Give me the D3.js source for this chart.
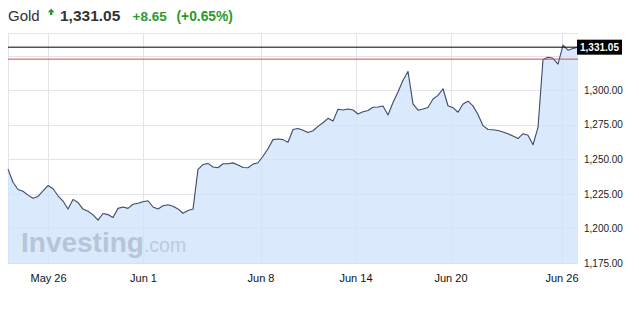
<!DOCTYPE html>
<html>
<head>
<meta charset="utf-8">
<script src="https://cdnjs.cloudflare.com/ajax/libs/d3/7.8.5/d3.min.js"></script>
<style>
body { margin: 0; background: #fff; }
svg text { font-family: Arial, "Liberation Sans", sans-serif; }
</style>
</head>
<body>
<div id="chart"></div>
<script>
// Gold price, one month, sampled at even steps
var prices = [
    1242.9, 1233.4, 1228.1, 1226.9, 1224.1, 1221.8, 1223.1, 1227.2, 1231.0, 1228.7,
    1223.6, 1219.8, 1214.0, 1221.0, 1218.7, 1214.0, 1212.4, 1209.8, 1206.0, 1210.8,
    1210.0, 1207.9, 1214.5, 1215.5, 1214.5, 1217.5, 1218.2, 1219.3, 1220.0, 1215.5,
    1214.0, 1216.4, 1217.1, 1216.0, 1214.1, 1211.0, 1212.9, 1214.0, 1242.7, 1246.2,
    1247.0, 1244.4, 1243.9, 1246.8, 1246.8, 1247.4, 1245.9, 1244.1, 1243.9, 1246.5,
    1247.5, 1252.2, 1257.6, 1264.2, 1264.7, 1264.2, 1262.3, 1271.5, 1272.2, 1271.0,
    1269.4, 1270.6, 1273.8, 1276.4, 1279.6, 1277.6, 1286.2, 1285.6, 1286.4, 1285.6,
    1282.7, 1284.3, 1285.3, 1287.6, 1287.8, 1288.5, 1282.0, 1291.0, 1298.6, 1307.2,
    1313.5, 1290.0, 1285.5, 1286.3, 1287.4, 1293.6, 1296.2, 1301.0, 1288.7, 1287.3,
    1284.0, 1290.0, 1292.0, 1288.6, 1282.3, 1274.3, 1271.5, 1271.3, 1270.8, 1269.7,
    1268.4, 1266.8, 1265.0, 1268.5, 1267.4, 1260.5, 1273.0, 1322.0, 1323.8, 1323.0,
    1318.8, 1332.5, 1328.9, 1330.1, 1331.05
];
var dateTicks = [8, 27, 50.5, 69.5, 88.5, 110.7];
var dateLabels = ["May 26", "Jun 1", "Jun 8", "Jun 14", "Jun 20", "Jun 26"];
var priceTicks = [1175, 1200, 1225, 1250, 1275, 1300];
var gridTicks = [1175, 1200, 1225, 1250, 1275, 1300, 1325];
var lastPrice = 1331.05, prevClose = 1322.40;
var change = "+8.65", changePct = "(+0.65%)";

function goldChart() {
    var width = 639, height = 316;
    var pl = 8, pr = 578, pt = 33, pb = 263;

    var svg = d3.select("#chart").append("svg")
	.attr("width", width)
	.attr("height", height);

    var x = d3.scaleLinear().domain([0, prices.length - 1]).range([pl, pr]);
    var y = d3.scaleLinear().domain([1175, 1341.3]).range([pb, pt]);

    function drawHeader() {
	var g = svg.append("g");
	g.append("text").attr("x", 8).attr("y", 21)
	    .attr("font-size", 15).attr("fill", "#333").text("Gold");
	// little up arrow
	g.append("path")
	    .attr("d", "M51.2,8.5 L54.6,12.3 L52.4,12.3 L52.4,15 L50,15 L50,12.3 L47.8,12.3 Z")
	    .attr("fill", "#2b9a2b");
	g.append("text").attr("x", 60).attr("y", 21)
	    .attr("font-size", 15.5).attr("font-weight", "bold").attr("fill", "#333")
	    .text(d3.format(",.2f")(lastPrice));
	g.append("text").attr("x", 132.5).attr("y", 21)
	    .attr("font-size", 13.5).attr("font-weight", "bold").attr("fill", "#2b9a2b")
	    .text(change);
	g.append("text").attr("x", 176.5).attr("y", 21)
	    .attr("font-size", 13.8).attr("font-weight", "bold").attr("fill", "#2b9a2b")
	    .text(changePct);
    }

    function drawGrid() {
	var g = svg.append("g").attr("class", "grid");
	g.selectAll("line.h").data(gridTicks).enter().append("line")
	    .attr("x1", pl).attr("x2", pr)
	    .attr("y1", function(d){return Math.round(y(d)) + 0.5})
	    .attr("y2", function(d){return Math.round(y(d)) + 0.5})
	    .attr("stroke", "#e3e4ea");
	g.selectAll("line.v").data(dateTicks).enter().append("line")
	    .attr("x1", function(d){return Math.round(x(d)) + 0.5})
	    .attr("x2", function(d){return Math.round(x(d)) + 0.5})
	    .attr("y1", pt).attr("y2", pb)
	    .attr("stroke", "#e3e4ea");
	g.append("line").attr("x1", pl).attr("x2", pr)
	    .attr("y1", pt + 0.5).attr("y2", pt + 0.5).attr("stroke", "#e3e4ea");
	g.append("line").attr("x1", pl + 0.5).attr("x2", pl + 0.5)
	    .attr("y1", pt).attr("y2", pb).attr("stroke", "#e3e4ea");
    }

    function drawSeries() {
	var area = d3.area()
	    .x(function(d, i){return x(i)})
	    .y0(pb)
	    .y1(function(d){return y(d)});
	var line = d3.line()
	    .x(function(d, i){return x(i)})
	    .y(function(d){return y(d)});

	svg.append("path").datum(prices)
	    .attr("d", area)
	    .attr("fill", "#cfe4fb")
	    .attr("fill-opacity", 0.78);

	// watermark
	var wm = svg.append("text").attr("x", 21).attr("y", 252);
	wm.append("tspan").attr("font-size", 28).attr("font-weight", "bold")
	    .attr("fill", "#b7c5d8").text("Investing");
	wm.append("tspan").attr("font-size", 19.5)
	    .attr("fill", "#bccbdd").text(".com");

	svg.append("line").attr("x1", pl).attr("x2", pr)
	    .attr("y1", pb + 0.5).attr("y2", pb + 0.5)
	    .attr("stroke", "#dde0e6");

	svg.append("path").datum(prices)
	    .attr("d", line)
	    .attr("fill", "none")
	    .attr("stroke", "#3d4a6c")
	    .attr("stroke-width", 1.1)
	    .attr("stroke-linejoin", "round");

	// previous close and last price
	svg.append("line").attr("x1", pl).attr("x2", pr)
	    .attr("y1", y(prevClose)).attr("y2", y(prevClose))
	    .attr("stroke", "#d0504a").attr("stroke-width", 1);
	svg.append("line").attr("x1", pl).attr("x2", pr)
	    .attr("y1", y(lastPrice)).attr("y2", y(lastPrice))
	    .attr("stroke", "#000").attr("stroke-width", 1);
    }

    function drawAxes() {
	var yAxis = d3.axisRight(y).tickValues(priceTicks).tickSize(0).tickPadding(0)
	    .tickFormat(d3.format(",.2f"));
	var ga = svg.append("g").attr("transform", "translate(584,0)").call(yAxis);
	ga.select(".domain").remove();
	ga.selectAll("text").attr("font-size", 10).attr("fill", "#222")
	    .attr("font-family", "Arial, 'Liberation Sans', sans-serif");

	var xAxis = d3.axisBottom(x).tickValues(dateTicks).tickSize(0).tickPadding(0)
	    .tickFormat(function(d, i){return dateLabels[i]});
	var gx = svg.append("g").attr("transform", "translate(0,274)").call(xAxis);
	gx.select(".domain").remove();
	gx.selectAll("text").attr("font-size", 11).attr("fill", "#111")
	    .attr("font-family", "Arial, 'Liberation Sans', sans-serif");

	// last price tag
	var ty = y(lastPrice);
	svg.append("rect").attr("x", 577).attr("y", ty - 7.5)
	    .attr("width", 45).attr("height", 15).attr("fill", "#000");
	svg.append("text").attr("x", 599.5).attr("y", ty + 3.5)
	    .attr("text-anchor", "middle").attr("font-size", 10).attr("font-weight", "bold")
	    .attr("fill", "#fff").text(d3.format(",.2f")(lastPrice));
    }

    drawHeader();
    drawGrid();
    drawSeries();
    drawAxes();
}

goldChart();
</script>
</body>
</html>
